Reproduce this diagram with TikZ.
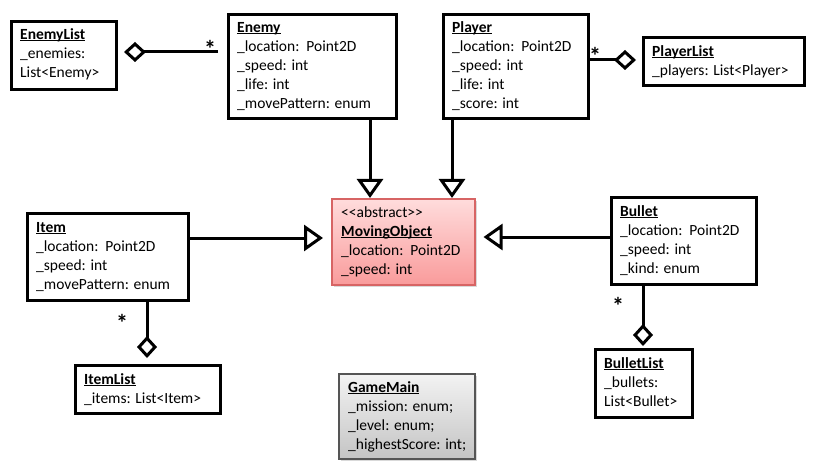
\documentclass[tikz,border=0pt]{standalone}
\usepackage{fontspec}
\setmainfont{Carlito}
\usetikzlibrary{arrows.meta,shadows}
\definecolor{pinkT}{RGB}{255,220,220}
\definecolor{pinkB}{RGB}{249,155,155}
\definecolor{pinkD}{RGB}{215,100,100}
\definecolor{grayT}{RGB}{243,243,243}
\definecolor{grayB}{RGB}{196,196,196}
\definecolor{grayD}{RGB}{85,85,85}
\newcommand\ttlu[1]{\setbox0\hbox{\bfseries #1}\rlap{\rule[-1.8pt]{\wd0}{1.3pt}}\box0}
\newcommand\fst{\rule{0pt}{15pt}}
\begin{document}
\begin{tikzpicture}[x=1pt,y=-1pt,
  umlbox/.style={draw=black, line width=3pt, rectangle, inner sep=0pt, anchor=north west},
  softbox/.style={rectangle, inner sep=0pt, anchor=north west, line width=1.5pt,
    drop shadow={shadow xshift=2pt, shadow yshift=-2pt, opacity=0.3}},
  txt/.style={anchor=north west, inner sep=0pt, align=left, font=\fontsize{15.5}{19}\selectfont},
  mult/.style={anchor=center, inner sep=0pt, font=\fontsize{24}{24}\selectfont\bfseries},
  gen/.style={line width=3pt, -{Triangle[open, length=19pt, width=26pt]}},
  agg/.style={line width=3pt, -{Diamond[open, length=22pt, width=20pt]}}
]
\useasboundingbox (0,0) rectangle (813,473);

% boxes
\node[umlbox, minimum width=105pt, minimum height=68pt] (enemylist) at (10,20) {};
\node[txt] (enemylistT) at ([shift={(10,4)}]enemylist.north west) {\fst\ttlu{EnemyList}\\\_enemies:\\List<Enemy>};

\node[umlbox, minimum width=168pt, minimum height=104pt] (enemy) at (227,13) {};
\node[txt] (enemyT) at ([shift={(10,4)}]enemy.north west) {\fst\ttlu{Enemy}\\\_location:\ \ Point2D\\\_speed: int\\\_life: int\\\_movePattern: enum};

\node[umlbox, minimum width=145pt, minimum height=104pt] (player) at (442,13) {};
\node[txt] (playerT) at ([shift={(10,4)}]player.north west) {\fst\ttlu{Player}\\\_location:\ \ Point2D\\\_speed: int\\\_life: int\\\_score: int};

\node[umlbox, minimum width=161pt, minimum height=48pt] (playerlist) at (642,36) {};
\node[txt] (playerlistT) at ([shift={(10,5)}]playerlist.north west) {\fst\ttlu{PlayerList}\\\_players: List<Player>};

\node[softbox, draw=pinkD, top color=pinkT, bottom color=pinkB, minimum width=143pt, minimum height=86pt] (moving) at (331,198) {};
\node[txt] (movingT) at ([shift={(10,4)}]moving.north west) {\fst<{}<abstract>{}>\\\ttlu{MovingObject}\\\_location:\ \ Point2D\\\_speed: int};

\node[umlbox, minimum width=161pt, minimum height=87pt] (item) at (26,212) {};
\node[txt] (itemT) at ([shift={(10,5)}]item.north west) {\fst\ttlu{Item}\\\_location:\ \ Point2D\\\_speed: int\\\_movePattern: enum};

\node[umlbox, minimum width=145pt, minimum height=87pt] (bullet) at (610,196) {};
\node[txt] (bulletT) at ([shift={(10,5)}]bullet.north west) {\fst\ttlu{Bullet}\\\_location:\ \ Point2D\\\_speed: int\\\_kind: enum};

\node[umlbox, minimum width=145pt, minimum height=48pt] (itemlist) at (74,364) {};
\node[txt] (itemlistT) at ([shift={(10,5)}]itemlist.north west) {\fst\ttlu{ItemList}\\\_items: List<Item>};

\node[umlbox, minimum width=97pt, minimum height=68pt] (bulletlist) at (594,348) {};
\node[txt] (bulletlistT) at ([shift={(10,5)}]bulletlist.north west) {\fst\ttlu{BulletList}\\\_bullets:\\List<Bullet>};

\node[softbox, draw=grayD, top color=grayT, bottom color=grayB, minimum width=136pt, minimum height=85pt] (gamemain) at (338,373) {};
\node[txt] (gamemainT) at ([shift={(10,4)}]gamemain.north west) {\fst\ttlu{GameMain}\\\_mission: enum;\\\_level: enum;\\\_highestScore: int;};

% generalizations
\coordinate (e1) at ([shift={(143,0)}]enemy.south west);
\draw[gen] (e1) -- (e1 |- moving.north);
\coordinate (p1) at ([shift={(10,0)}]player.south west);
\draw[gen] (p1) -- (p1 |- moving.north);
\coordinate (i1) at ([shift={(0,26)}]item.north east);
\draw[gen, shorten >=8pt] (i1) -- (i1 -| moving.west);
\coordinate (b1) at ([shift={(0,41)}]bullet.north west);
\draw[gen, shorten >=8pt] (b1) -- (b1 -| moving.east);

% aggregations
\coordinate (el1) at ([shift={(0,32)}]enemylist.north east);
\draw[agg, shorten <=9pt, shorten >=6pt] (el1 -| enemy.west) -- (el1);
\coordinate (pl1) at ([shift={(0,24)}]playerlist.north west);
\draw[agg, shorten >=6pt] (pl1 -| player.east) -- (pl1);
\coordinate (il1) at ([shift={(121,0)}]item.south west);
\draw[agg, shorten >=6pt] (il1) -- (il1 |- itemlist.north);
\coordinate (bl1) at ([shift={(33,0)}]bullet.south west);
\draw[agg, shorten >=2pt] (bl1) -- (bl1 |- bulletlist.north);

% multiplicities
\node[mult] (m1) at (210,49) {*};
\node[mult] (m2) at (595,56) {*};
\node[mult] (m3) at (122,323) {*};
\node[mult] (m4) at (618,306) {*};
\end{tikzpicture}
\end{document}
